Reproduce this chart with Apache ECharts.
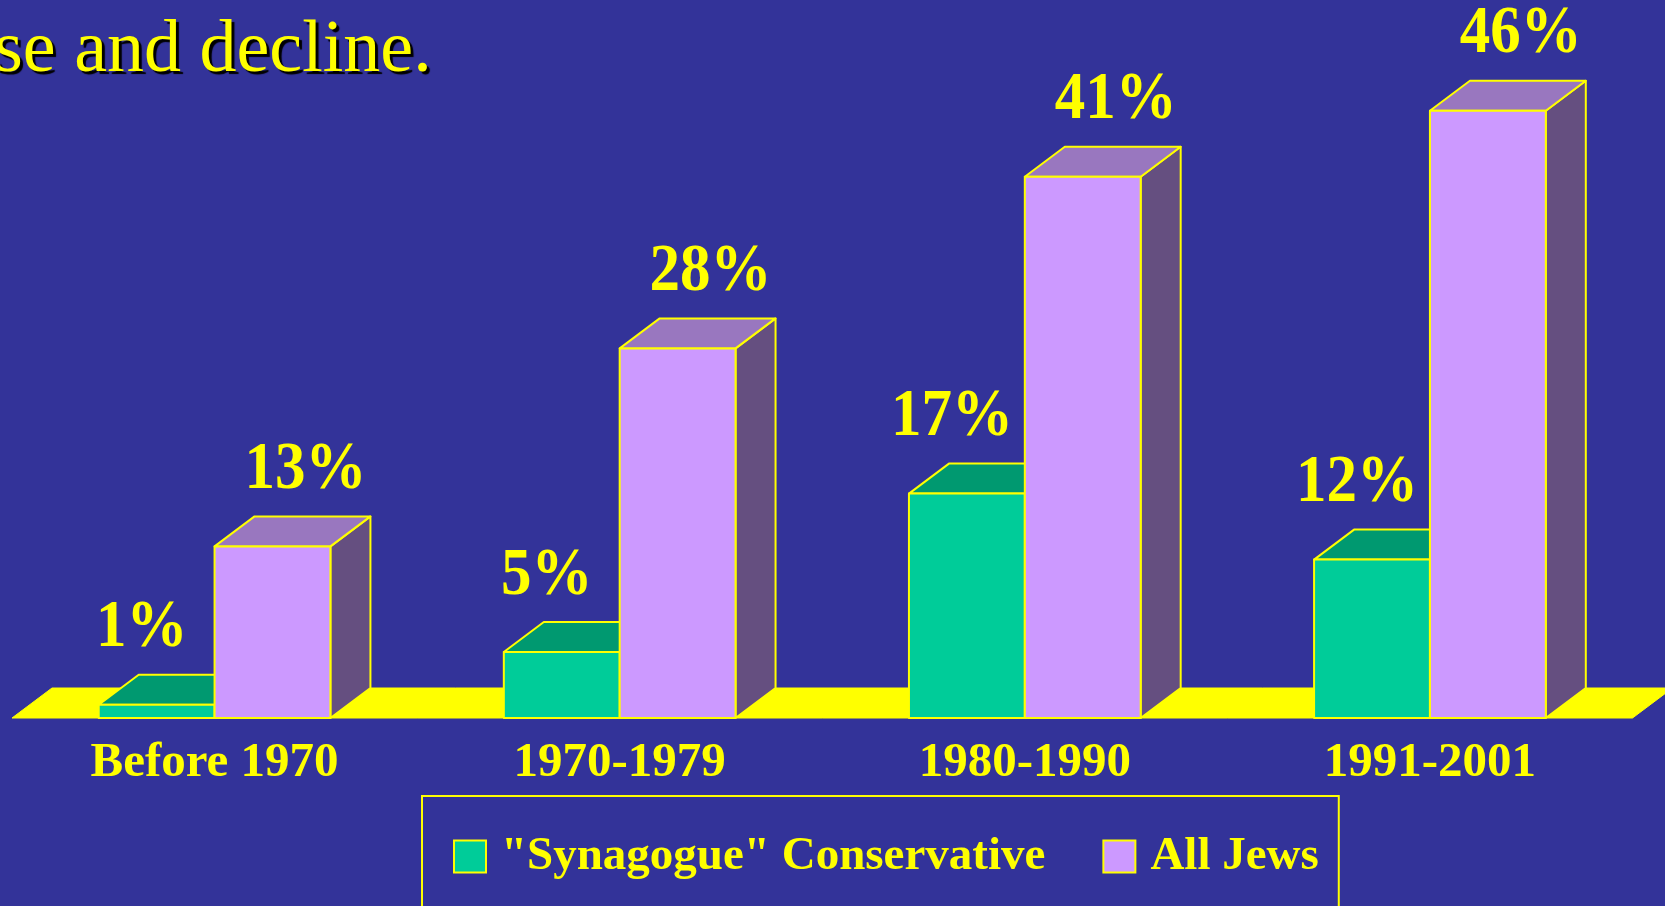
<!DOCTYPE html>
<html>
<head>
<meta charset="utf-8">
<title>Synagogue Conservative vs All Jews</title>
<script src="https://cdn.jsdelivr.net/npm/echarts@6/dist/echarts.min.js"></script>
<style>
  html, body { margin: 0; padding: 0; background: #333399; }
  #chart { width: 1665px; height: 906px; }
</style>
</head>
<body>
<div id="chart"></div>
<script>
const categories = ["Before 1970", "1970-1979", "1980-1990", "1991-2001"];
const conservative = [1, 5, 17, 12];
const allJews = [13, 28, 41, 46];
const seriesNames = ['"Synagogue" Conservative', "All Jews"];

const FONT = '"Liberation Serif", "Times New Roman", serif';
const YELLOW = "#ffff00";
const DEPTH_X = 40;
const DEPTH_Y = 30;
const BAR_RATIO = 0.286;

const palettes = [
  { front: "#00cc99", top: "#009970", side: "#007a5a", labelShift: -15 },
  { front: "#cc99ff", top: "#9977bf", side: "#654f80", labelShift: 33 },
];

function edge(fill) {
  return { fill: fill, stroke: YELLOW, lineWidth: 2, lineJoin: "round" };
}

// 3D box: side, top, then front face, with the value above it
function renderBox(side) {
  return function (params, api) {
    const idx = api.value(0);
    const val = api.value(1);
    const base = api.coord([idx, 0]);
    const top = api.coord([idx, val]);
    const w = api.size([1, 0])[0] * BAR_RATIO;
    const x0 = side === 0 ? base[0] - w : base[0];
    const x1 = x0 + w;
    const yb = base[1];
    const yt = top[1];
    const pal = palettes[side];
    return {
      type: "group",
      children: [
        {
          type: "polygon",
          shape: { points: [[x1, yb], [x1 + DEPTH_X, yb - DEPTH_Y], [x1 + DEPTH_X, yt - DEPTH_Y], [x1, yt]] },
          style: edge(pal.side),
        },
        {
          type: "polygon",
          shape: { points: [[x0, yt], [x0 + DEPTH_X, yt - DEPTH_Y], [x1 + DEPTH_X, yt - DEPTH_Y], [x1, yt]] },
          style: edge(pal.top),
        },
        {
          type: "rect",
          shape: { x: x0, y: yt, width: w, height: yb - yt },
          style: edge(pal.front),
        },
        {
          type: "text",
          x: (x0 + x1) / 2 + pal.labelShift,
          y: yt - 76,
          scaleY: 1.12,
          style: {
            text: val + "%",
            fill: YELLOW,
            font: "bold 61px " + FONT,
            align: "center",
            verticalAlign: "middle",
          },
        },
      ],
    };
  };
}

// yellow floor under the bars
function renderFloor(params, api) {
  const cs = params.coordSys;
  const yb = api.coord([0, 0])[1];
  return {
    type: "polygon",
    shape: {
      points: [
        [cs.x, yb],
        [cs.x + cs.width, yb],
        [cs.x + cs.width + DEPTH_X, yb - DEPTH_Y],
        [cs.x + DEPTH_X, yb - DEPTH_Y],
      ],
    },
    style: { fill: YELLOW, stroke: YELLOW, lineWidth: 1 },
  };
}

const chart = echarts.init(document.getElementById("chart"));
chart.setOption({
  backgroundColor: "#333399",
  animation: false,
  title: {
    text: "se and decline.",
    left: -6,
    top: 15,
    padding: 0,
    textStyle: {
      color: YELLOW,
      fontFamily: FONT,
      fontWeight: "normal",
      fontSize: 74,
      textShadowColor: "#000000",
      textShadowOffsetX: 3,
      textShadowOffsetY: 3,
      textShadowBlur: 1,
    },
  },
  legend: {
    data: seriesNames,
    left: 422,
    top: 796,
    padding: [37, 20, 80, 31],
    itemGap: 57,
    itemWidth: 32,
    itemHeight: 32,
    icon: "rect",
    borderColor: YELLOW,
    borderWidth: 2,
    selectedMode: false,
    itemStyle: { borderColor: YELLOW, borderWidth: 2 },
    textStyle: {
      color: YELLOW,
      fontSize: 47,
      fontWeight: "bold",
      fontFamily: FONT,
      padding: [0, 0, 0, 10],
    },
  },
  grid: { left: 12, right: 32.5, top: 58, bottom: 188, outerBoundsMode: "none" },
  xAxis: {
    type: "category",
    data: categories,
    axisLine: { show: false },
    axisTick: { show: false },
    axisLabel: {
      color: YELLOW,
      fontSize: 49,
      fontWeight: "bold",
      fontFamily: FONT,
      margin: 21,
    },
  },
  yAxis: { type: "value", min: 0, max: 50, show: false, splitLine: { show: false } },
  series: [
    {
      name: "floor",
      type: "custom",
      renderItem: renderFloor,
      data: [[0, 0]],
      clip: false,
      silent: true,
    },
    {
      name: seriesNames[0],
      type: "custom",
      renderItem: renderBox(0),
      data: categories.map((c, i) => [i, conservative[i]]),
      itemStyle: { color: palettes[0].front },
      clip: false,
    },
    {
      name: seriesNames[1],
      type: "custom",
      renderItem: renderBox(1),
      data: categories.map((c, i) => [i, allJews[i]]),
      itemStyle: { color: palettes[1].front },
      clip: false,
    },
  ],
});
</script>
</body>
</html>
